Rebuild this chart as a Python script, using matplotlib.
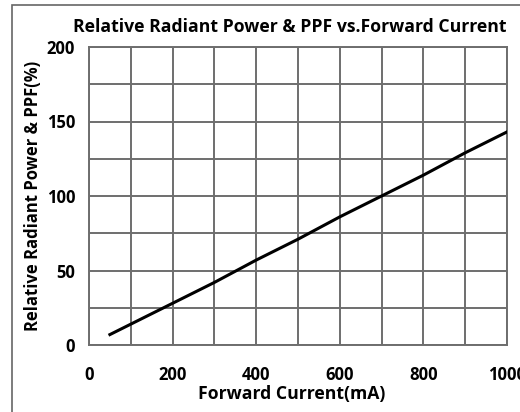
import matplotlib.pyplot as plt
from matplotlib.patches import Rectangle

# forward current (mA) vs relative radiant power & PPF (%)
current = [50, 100, 200, 300, 400, 500, 600, 700, 800, 900, 1000]
power = [7, 14, 28, 42, 57, 71, 86, 100, 114, 129, 143]

xticks = [0, 200, 400, 600, 800, 1000]
yticks = [0, 50, 100, 150, 200]

plt.rcParams['font.family'] = ['Open Sans', 'DejaVu Sans']
plt.rcParams['font.weight'] = 'bold'

fig = plt.figure(figsize=(5.2, 4.12), dpi=100)
ax = fig.add_axes([89/520, 1-345/412, 418/520, 298/412])

# outer frame
fig.patches.append(Rectangle((12/520, -0.1), 1.2, 1-5/412+0.1, transform=fig.transFigure,
                             fill=False, edgecolor='#666666', linewidth=1.2))

ax.plot(current, power, color='black', linewidth=2.2, zorder=3)

ax.set_xlim(0, 1000)
ax.set_ylim(0, 200)
ax.set_xticks(range(0, 1001, 100))
ax.set_yticks(range(0, 201, 25))
ax.grid(True, color='#6e6e6e', linewidth=1.4)
ax.set_xticklabels([str(v) if v in xticks else '' for v in range(0, 1001, 100)])
ax.set_yticklabels([str(v) if v in yticks else '' for v in range(0, 201, 25)])
ax.tick_params(length=0, labelsize=12)
ax.tick_params(axis='x', pad=15)
ax.tick_params(axis='y', pad=10)
for s in ax.spines.values():
    s.set_color('#6e6e6e')
    s.set_linewidth(1.4)

ax.set_title('Relative Radiant Power & PPF vs.Forward Current', fontsize=12.7,
             fontweight='bold', pad=11, x=0.48)
ax.set_xlabel('Forward Current(mA)', fontsize=12.7, fontweight='bold', va='center')
ax.set_ylabel('Relative Radiant Power & PPF(%)', fontsize=12, fontweight='bold', va='center')
ax.xaxis.set_label_coords(0.486, (345-394)/298)
ax.yaxis.set_label_coords((33-89)/418, 0.5)

fig.savefig('out.png', dpi=100)
